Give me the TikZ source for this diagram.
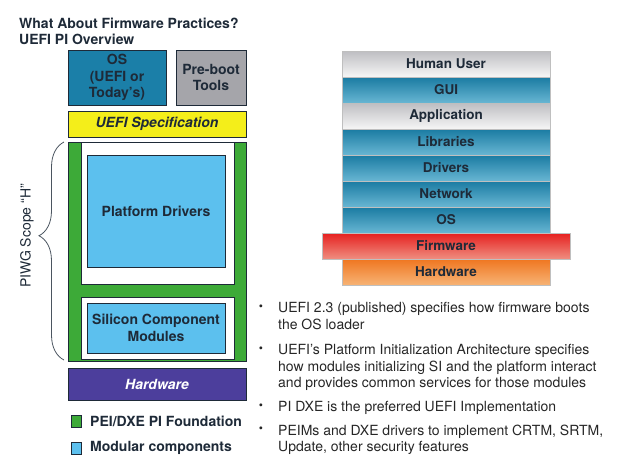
\documentclass[tikz,border=0pt]{standalone}
\usepackage{fontspec}
\setmainfont{TeX Gyre Heros}
\usetikzlibrary{decorations.pathreplacing}
\definecolor{ink}{HTML}{1E2A38}
\definecolor{textgray}{HTML}{262626}
\definecolor{osblue}{HTML}{1B7FA8}
\definecolor{toolgray}{HTML}{A5A5AA}
\definecolor{specyellow}{HTML}{F4EE1A}
\definecolor{piGreen}{HTML}{3DAA38}
\definecolor{modblue}{HTML}{5CC0EE}
\definecolor{hwpurple}{HTML}{4C3E9C}
\definecolor{tealtop}{HTML}{1A7BA2}
\definecolor{tealbot}{HTML}{68B6D3}
\definecolor{graytop}{HTML}{BEBEC2}
\definecolor{graybot}{HTML}{F6F6F6}
\definecolor{fwtop}{HTML}{E6201F}
\definecolor{fwbot}{HTML}{EF8E80}
\definecolor{hwtop}{HTML}{EF7620}
\definecolor{hwbot}{HTML}{F7B375}

\begin{document}
\begin{tikzpicture}[x=1pt,y=-1pt,
  box/.style={draw=ink,line width=0.9pt,inner sep=0pt,align=center,text=ink,
    font=\fontsize{14}{16.5}\selectfont\bfseries},
  panel/.style={draw=ink,line width=0.9pt,fill=white,inner sep=0pt},
  layer/.style={draw=black!25,minimum width=208,minimum height=26,inner sep=0pt,
    text=ink,font=\fontsize{13.5}{16}\selectfont\bfseries},
  bluelayer/.style={top color=tealtop,bottom color=tealbot},
  graylayer/.style={top color=graytop,bottom color=graybot},
  fwlayer/.style={top color=fwtop,bottom color=fwbot,minimum width=248},
  hwlayer/.style={top color=hwtop,bottom color=hwbot},
  legend/.style={anchor=west,inner sep=0pt,text=ink,font=\fontsize{14}{16}\selectfont\bfseries},
  bulletxt/.style={anchor=north west,inner sep=0pt,align=left,text=textgray,
    font=\fontsize{14}{16.5}\selectfont}]
\useasboundingbox (0,0) rectangle (626,464);

% title
\node[anchor=north west,inner sep=0pt,align=left,text=ink,
  font=\fontsize{14}{16}\selectfont\bfseries] (title) at (19,17.7)
  {What About Firmware Practices?\\UEFI PI Overview};

% left block
\node[box,fill=osblue,minimum width=98,minimum height=55] (os) at (117,77.5) {OS\\(UEFI or\\Today’s)};
\node[box,fill=toolgray,minimum width=70,minimum height=55] (tools) at (211,77.5) {Pre-boot\\Tools};
\node[box,fill=specyellow,minimum width=178,minimum height=26,font=\fontsize{14}{16}\selectfont\bfseries\itshape] (spec) at (157,124) {UEFI Specification};
\node[box,fill=piGreen,minimum width=178,minimum height=219] (frame) at (157,251.5) {};
\node[panel,minimum width=153,minimum height=142] (panelA) at (157.5,213) {};
\node[panel,minimum width=153,minimum height=62] (panelB) at (157.5,328) {};
\node[box,fill=modblue,minimum width=138,minimum height=112] (platform) at (156,211) {Platform Drivers};
\node[box,fill=modblue,minimum width=138,minimum height=50] (silicon) at (156,328) {Silicon Component\\Modules};
\node[box,fill=hwpurple,minimum width=178,minimum height=32,text=white,font=\fontsize{14}{16}\selectfont\bfseries\itshape] (hw) at (157,384) {Hardware};

% scope brace
\coordinate (bracetop) at (64,142);
\coordinate (bracebot) at (64,360);
\draw[ink!80,line width=0.8pt,decorate,decoration={brace,amplitude=25pt,aspect=0.57}] (bracebot) -- (bracetop);
\node[rotate=90,inner sep=0pt,text=ink,font=\fontsize{14}{16}\selectfont] (scope) at (27,236) {PIWG Scope “H”};

% legend
\node[draw=ink,line width=0.8pt,fill=piGreen,minimum width=10,minimum height=12,inner sep=0pt] (keyA) at (76,421.5) {};
\node[draw=ink,line width=0.8pt,fill=modblue,minimum width=10,minimum height=12,inner sep=0pt] (keyB) at (76,448) {};
\node[legend] (keyAtxt) at (90,421.5) {PEI/DXE PI Foundation};
\node[legend] (keyBtxt) at (90,447.5) {Modular components};

% layer stack
\foreach \nm/\txt/\sty [count=\i] in {user/Human User/graylayer,gui/GUI/bluelayer,
    app/Application/graylayer,lib/Libraries/bluelayer,drv/Drivers/bluelayer,
    net/Network/bluelayer,sos/OS/bluelayer,fw/Firmware/fwlayer,shw/Hardware/hwlayer}
  \node[layer,\sty] (\nm) at (446,38+26*\i) {\txt};

% bullets
\foreach \yy/\txt [count=\i] in {
    302.5/{UEFI 2.3 (published) specifies how firmware boots\\the OS loader},
    344.5/{UEFI’s Platform Initialization Architecture specifies\\how modules initializing SI and the platform interact\\and provides common services for those modules},
    401.5/{PI DXE is the preferred UEFI Implementation},
    424.5/{PEIMs and DXE drivers to implement CRTM, SRTM,\\Update, other security features}}
{
  \node[bulletxt] (b\i) at (278,\yy) {\txt};
  \node[inner sep=0pt,text=textgray,font=\fontsize{12}{14}\selectfont] (dot\i) at ([xshift=-17pt,yshift=-5.5pt]b\i.north west) {\textbullet};
}
\end{tikzpicture}
\end{document}
